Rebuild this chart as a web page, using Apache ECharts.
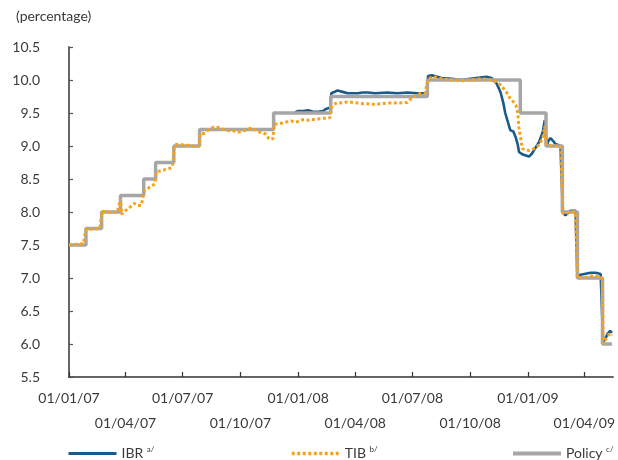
<!DOCTYPE html>
<html>
<head>
<meta charset="utf-8">
<script src="https://cdn.jsdelivr.net/npm/echarts@6/dist/echarts.min.js"></script>
<style>
html,body{margin:0;padding:0;background:#fff;}
#chart{width:618px;height:460px;}
</style>
</head>
<body>
<div id="chart"></div>
<script>
// ---- Data ----
var xTickDates = ['2007-01-01','2007-04-01','2007-07-01','2007-10-01','2008-01-01','2008-04-01','2008-07-01','2008-10-01','2009-01-01','2009-04-01'];

var policyDates = ['2007-01-01','2007-01-28','2007-02-22','2007-03-24','2007-04-30','2007-05-19','2007-06-17','2007-07-28','2007-11-23','2008-02-22','2008-07-25','2008-12-20','2009-01-30','2009-02-25','2009-03-21','2009-04-30','2009-05-15'];
var policyValues = [7.50,7.75,8.00,8.25,8.50,8.75,9.00,9.25,9.50,9.75,10.00,9.50,9.00,8.00,7.00,6.00,6.00];

var tibDates = ['2007-01-01','2007-01-12','2007-01-24','2007-01-27','2007-01-28','2007-02-03','2007-02-11','2007-02-19','2007-02-22','2007-02-23','2007-03-03','2007-03-10','2007-03-19','2007-03-22','2007-03-24','2007-03-26','2007-03-28','2007-03-30','2007-04-04','2007-04-09','2007-04-15','2007-04-20','2007-04-26','2007-04-29','2007-05-01','2007-05-09','2007-05-14','2007-05-18','2007-05-20','2007-05-25','2007-06-02','2007-06-10','2007-06-15','2007-06-18','2007-06-21','2007-06-26','2007-07-03','2007-07-11','2007-07-21','2007-07-27','2007-07-29','2007-08-04','2007-08-12','2007-08-20','2007-08-28','2007-09-04','2007-09-12','2007-09-20','2007-09-28','2007-10-06','2007-10-10','2007-10-18','2007-10-23','2007-10-29','2007-11-05','2007-11-11','2007-11-16','2007-11-19','2007-11-22','2007-11-24','2007-11-30','2007-12-08','2007-12-16','2007-12-21','2007-12-27','2008-01-01','2008-01-09','2008-01-17','2008-01-25','2008-02-02','2008-02-10','2008-02-14','2008-02-21','2008-02-23','2008-02-25','2008-03-04','2008-03-12','2008-03-20','2008-03-28','2008-04-05','2008-04-13','2008-04-21','2008-05-03','2008-05-22','2008-06-07','2008-06-23','2008-07-01','2008-07-09','2008-07-16','2008-07-21','2008-07-24','2008-07-26','2008-08-01','2008-08-09','2008-08-17','2008-09-02','2008-09-17','2008-09-25','2008-10-03','2008-10-19','2008-11-04','2008-11-12','2008-11-19','2008-11-27','2008-12-05','2008-12-09','2008-12-13','2008-12-16','2008-12-18','2008-12-21','2008-12-23','2008-12-26','2009-01-03','2009-01-11','2009-01-19','2009-01-25','2009-01-28','2009-01-30','2009-02-03','2009-02-14','2009-02-22','2009-02-25','2009-02-26','2009-03-02','2009-03-10','2009-03-18','2009-03-20','2009-03-21','2009-03-26','2009-04-03','2009-04-11','2009-04-19','2009-04-27','2009-04-30','2009-05-01','2009-05-03','2009-05-08','2009-05-12','2009-05-15'];
var tibValues = [7.50,7.51,7.52,7.52,7.74,7.74,7.74,7.75,7.76,8.01,8.00,7.99,8.00,7.98,8.20,7.96,8.00,7.97,8.04,8.08,8.13,8.10,8.10,8.12,8.32,8.37,8.40,8.43,8.60,8.62,8.64,8.66,8.69,9.02,9.05,9.03,9.01,9.01,8.99,9.00,9.19,9.19,9.25,9.29,9.28,9.25,9.23,9.23,9.21,9.23,9.24,9.27,9.25,9.22,9.20,9.18,9.10,9.08,9.11,9.33,9.34,9.35,9.37,9.38,9.36,9.37,9.40,9.39,9.40,9.41,9.42,9.42,9.43,9.58,9.62,9.66,9.65,9.67,9.66,9.65,9.64,9.64,9.63,9.65,9.65,9.66,9.74,9.78,9.80,9.80,9.82,10.00,10.05,10.04,10.02,10.00,9.99,9.99,10.00,10.02,10.00,9.97,9.92,9.83,9.70,9.67,9.62,9.50,9.25,9.10,8.96,8.94,8.93,8.96,9.02,9.12,9.30,9.03,9.01,9.00,9.00,8.98,7.98,7.97,8.00,8.00,7.99,7.00,7.00,7.01,7.03,7.03,7.02,6.98,6.00,6.01,6.12,6.16,6.13];

var ibrDates = ['2007-12-27','2008-01-01','2008-01-09','2008-01-17','2008-01-25','2008-02-02','2008-02-10','2008-02-14','2008-02-21','2008-02-23','2008-03-04','2008-03-12','2008-03-20','2008-03-28','2008-04-05','2008-04-13','2008-04-21','2008-05-03','2008-05-22','2008-06-07','2008-06-23','2008-07-09','2008-07-21','2008-07-25','2008-07-26','2008-08-01','2008-08-17','2008-09-02','2008-09-17','2008-09-25','2008-10-11','2008-10-27','2008-11-04','2008-11-12','2008-11-16','2008-11-19','2008-11-23','2008-11-26','2008-12-01','2008-12-04','2008-12-09','2008-12-13','2008-12-16','2008-12-18','2008-12-24','2009-01-03','2009-01-08','2009-01-11','2009-01-19','2009-01-25','2009-01-28','2009-01-31','2009-02-03','2009-02-06','2009-02-11','2009-02-14','2009-02-22','2009-02-25','2009-02-26','2009-03-02','2009-03-10','2009-03-18','2009-03-20','2009-03-21','2009-03-26','2009-04-11','2009-04-19','2009-04-27','2009-04-30','2009-05-01','2009-05-03','2009-05-08','2009-05-12','2009-05-15'];
var ibrValues = [9.51,9.53,9.53,9.54,9.52,9.52,9.53,9.56,9.58,9.80,9.84,9.82,9.80,9.80,9.80,9.81,9.81,9.80,9.81,9.80,9.81,9.80,9.80,9.82,10.06,10.07,10.03,10.02,10.00,10.01,10.03,10.05,10.03,9.95,9.87,9.80,9.65,9.50,9.34,9.24,9.22,9.12,9.02,8.91,8.87,8.84,8.89,8.94,9.06,9.22,9.39,8.99,9.08,9.12,9.07,9.03,9.00,8.99,7.98,7.95,8.02,8.02,8.01,7.02,7.05,7.08,7.08,7.06,7.04,6.02,6.05,6.15,6.20,6.17];

var yMin = 5.5, yMax = 10.5, yStep = 0.5;
var xMin = '2007-01-01', xMax = '2009-05-17';

// ---- helpers ----
function ts(s){ var p = s.split('-'); return Date.UTC(+p[0], +p[1]-1, +p[2]); }
function zip(d, v){ return d.map(function(x,i){ return [ts(x), v[i]]; }); }
function pad(n){ return (n<10?'0':'')+n; }
function fmt(v){ var d = new Date(v); return pad(d.getUTCDate())+'/'+pad(d.getUTCMonth()+1)+'/'+pad(d.getUTCFullYear()%100); }

var FONT = 'Lato, "Open Sans", sans-serif';
var TXT = '#3a3a3a';
var tickTs = xTickDates.map(ts);
var rowA = tickTs.filter(function(v,i){ return i % 2 === 0; });
var rowB = tickTs.filter(function(v,i){ return i % 2 === 1; });

var chart = echarts.init(document.getElementById('chart'), null, {renderer:'canvas'});

function legendCfg(name, left, sup, lw){
  return {
    data:[name], left:left, top:445, orient:'horizontal',
    itemWidth:48, itemHeight:14, itemGap:4, padding:0,
    itemStyle:{ opacity:0 },
    lineStyle:{ width:lw },
    formatter: function(n){ return '{n|'+n+'} {s|'+sup+'}'; },
    textStyle:{ fontFamily:FONT, color:TXT, fontSize:14,
      rich:{ n:{fontFamily:FONT, fontSize:14, color:TXT},
             s:{fontFamily:FONT, fontSize:8, color:TXT, padding:[0,0,9,0]} } }
  };
}

function labelCfg(vals, margin){
  return { show:true, customValues:vals, showMinLabel:true, showMaxLabel:true, hideOverlap:false,
    margin:margin, color:TXT, fontFamily:FONT, fontSize:14, formatter:fmt };
}

chart.setOption({
  animation:false,
  backgroundColor:'#fff',
  textStyle:{fontFamily:FONT},
  title:{ text:'(percentage)', left:11, top:4,
    textStyle:{fontFamily:FONT, fontSize:14, fontWeight:'normal', color:TXT} },
  legend:[ legendCfg('IBR', 67, 'a/', 3), legendCfg('TIB', 290, 'b/', 3.5), legendCfg('Policy', 511, 'c/', 4) ],
  grid:{ left:69, top:47, width:548, height:330, containLabel:false },
  xAxis:[{
    type:'value', min:ts(xMin), max:ts(xMax), position:'bottom',
    axisLine:{ show:true, lineStyle:{color:'#333', width:1.5} },
    axisTick:{ show:true, inside:true, length:5, customValues:tickTs, lineStyle:{color:'#333', width:1.2} },
    axisLabel:labelCfg(rowA, 14),
    splitLine:{show:false}
  },{
    type:'value', min:ts(xMin), max:ts(xMax), position:'bottom', offset:0,
    axisLine:{ show:false }, axisTick:{ show:false },
    axisLabel:labelCfg(rowB, 39),
    splitLine:{show:false}
  }],
  yAxis:{
    type:'value', min:yMin, max:yMax, interval:yStep,
    axisLine:{ show:true, lineStyle:{color:'#666', width:2} },
    axisTick:{ show:true, inside:true, length:4, lineStyle:{color:'#555', width:1.2} },
    axisLabel:{ margin:29, color:TXT, fontFamily:FONT, fontSize:14,
      formatter:function(v){ return v.toFixed(1); } },
    splitLine:{show:false}
  },
  series:[
    { name:'IBR', type:'line', data:zip(ibrDates, ibrValues), symbol:'none',
      lineStyle:{color:'#1b5b8c', width:2.6}, itemStyle:{color:'#1b5b8c'}, z:2 },
    { name:'Policy', type:'line', step:'end', data:zip(policyDates, policyValues), symbol:'none',
      lineStyle:{color:'#a6a6a6', width:3.5}, itemStyle:{color:'#a6a6a6'}, z:3 },
    { name:'TIB', type:'line', data:zip(tibDates, tibValues), symbol:'none',
      lineStyle:{color:'#f7a21b', width:3, type:[3,2.5]}, itemStyle:{color:'#f7a21b'}, z:4 }
  ]
});
</script>
</body>
</html>
